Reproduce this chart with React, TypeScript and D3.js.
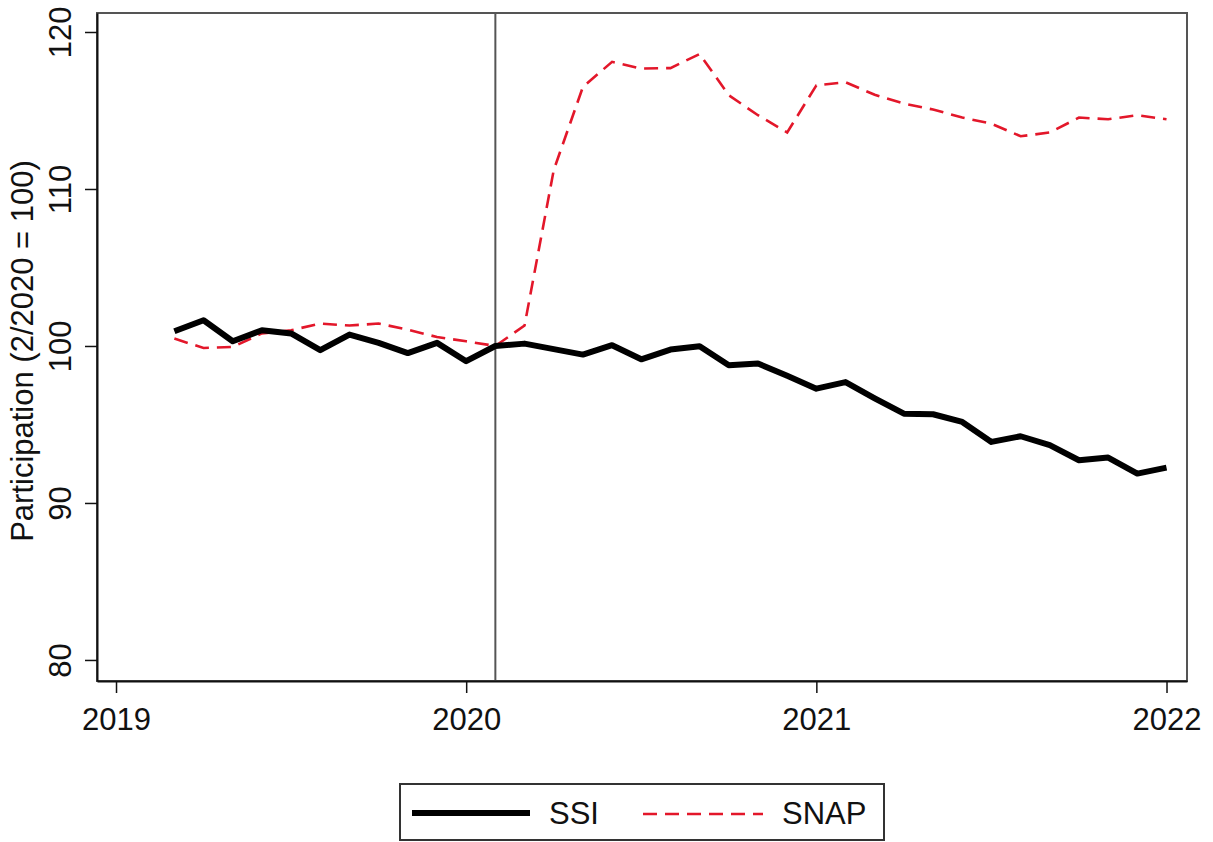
import { useRef, useEffect } from 'react'
import * as d3 from 'd3'

// monthly observations, Mar 2019 - Jan 2022
const months = [
  '2019-03', '2019-04', '2019-05', '2019-06', '2019-07', '2019-08', '2019-09', '2019-10', '2019-11', '2019-12',
  '2020-01', '2020-02', '2020-03', '2020-04', '2020-05', '2020-06', '2020-07', '2020-08', '2020-09', '2020-10',
  '2020-11', '2020-12', '2021-01', '2021-02', '2021-03', '2021-04', '2021-05', '2021-06', '2021-07', '2021-08',
  '2021-09', '2021-10', '2021-11', '2021-12', '2022-01'
]
const ssi = [
  100.94, 101.64, 100.3, 101.0, 100.8, 99.73, 100.73, 100.2, 99.55, 100.2,
  99.03, 100.0, 100.15, 99.8, 99.45, 100.05, 99.15, 99.77, 99.98, 98.77,
  98.88, 98.1, 97.28, 97.7, 96.67, 95.69, 95.65, 95.16, 93.89, 94.25,
  93.68, 92.72, 92.89, 91.87, 92.25
]
const snap = [
  100.47, 99.87, 99.94, 100.8, 101.0, 101.43, 101.3, 101.43, 101.04, 100.57,
  100.3, 100.0, 101.3, 111.2, 116.5, 118.1, 117.67, 117.7, 118.6, 115.97,
  114.7, 113.6, 116.6, 116.8, 116.0, 115.44, 115.06, 114.55, 114.16, 113.36,
  113.6, 114.55, 114.44, 114.7, 114.44
]
const xTicks = [2019, 2020, 2021, 2022]
const yTicks = [80, 90, 100, 110, 120]
const eventMonth = '2020-02'
const yTitle = 'Participation (2/2020 = 100)'

const toYear = (m: string) => {
  const [y, mo] = m.split('-').map(Number)
  return y + (mo - 1) / 12
}

function App() {
  const ref = useRef<SVGSVGElement>(null)

  useEffect(() => {
    const left = 97, right = 1187, top = 13, bottom = 681
    const svg = d3.select(ref.current)
    svg.selectAll('*').remove()

    const x = d3.scaleLinear().domain([2018.9457, 2022.0585]).range([left, right])
    const y = d3.scaleLinear().domain([78.66, 121.21]).range([bottom, top])

    const font = '"Liberation Sans", Arial, sans-serif'

    // plot region frame
    svg.append('rect')
      .attr('x', left).attr('y', top)
      .attr('width', right - left).attr('height', bottom - top)
      .attr('fill', 'none').attr('stroke', '#555').attr('stroke-width', 2)

    // event line
    svg.append('line')
      .attr('x1', x(toYear(eventMonth))).attr('x2', x(toYear(eventMonth)))
      .attr('y1', top).attr('y2', bottom)
      .attr('stroke', '#555').attr('stroke-width', 2)

    const line = d3.line<number>()
      .x((d, i) => x(toYear(months[i])))
      .y(d => y(d))

    svg.append('path')
      .attr('d', line(snap))
      .attr('fill', 'none').attr('stroke', '#e3172a').attr('stroke-width', 2.6)
      .attr('stroke-dasharray', '14 8')

    svg.append('path')
      .attr('d', line(ssi))
      .attr('fill', 'none').attr('stroke', '#000').attr('stroke-width', 6)
      .attr('stroke-linejoin', 'round')

    // axes
    const yAxis = svg.append('g')
      .attr('transform', `translate(${left},0)`)
      .call(d3.axisLeft(y).tickValues(yTicks).tickSize(12).tickSizeOuter(0).tickFormat(d3.format('d')))
    const xAxis = svg.append('g')
      .attr('transform', `translate(0,${bottom})`)
      .call(d3.axisBottom(x).tickValues(xTicks).tickSize(12).tickSizeOuter(0).tickFormat(d3.format('d')))
    ;[xAxis, yAxis].forEach(g => {
      g.select('.domain').attr('stroke', '#111').attr('stroke-width', 2)
      g.selectAll('.tick line').attr('stroke', '#111').attr('stroke-width', 1.5)
      g.selectAll('text').attr('fill', '#111').style('font', `31px ${font}`)
    })
    xAxis.selectAll('text').attr('dy', null).attr('y', 49)
    yAxis.selectAll('.tick text')
      .attr('x', null).attr('dy', null)
      .attr('text-anchor', 'middle')
      .attr('transform', 'translate(-26,0) rotate(-90)')

    svg.append('text')
      .attr('transform', `translate(33,${(top + bottom) / 2 + 4}) rotate(-90)`)
      .attr('text-anchor', 'middle')
      .style('font', `31px ${font}`)
      .attr('fill', '#111')
      .text(yTitle)

    // legend
    const lg = svg.append('g').attr('transform', 'translate(400,784)')
    lg.append('rect').attr('width', 484).attr('height', 56)
      .attr('fill', '#fff').attr('stroke', '#333').attr('stroke-width', 2)
    lg.append('line').attr('x1', 12).attr('x2', 130).attr('y1', 29).attr('y2', 29)
      .attr('stroke', '#000').attr('stroke-width', 6)
    lg.append('text').attr('x', 149).attr('y', 40).text('SSI')
      .style('font', `31px ${font}`).attr('fill', '#111')
    lg.append('line').attr('x1', 243).attr('x2', 363).attr('y1', 30).attr('y2', 30)
      .attr('stroke', '#e3172a').attr('stroke-width', 2.6).attr('stroke-dasharray', '14 8')
    lg.append('text').attr('x', 382).attr('y', 40).text('SNAP')
      .style('font', `31px ${font}`).attr('fill', '#111')
  }, [])

  return (
    <svg ref={ref} width={1213} height={842}
      style={{ position: 'absolute', left: 0, top: 0, background: '#fff' }}>
    </svg>
  )
}

export default App
